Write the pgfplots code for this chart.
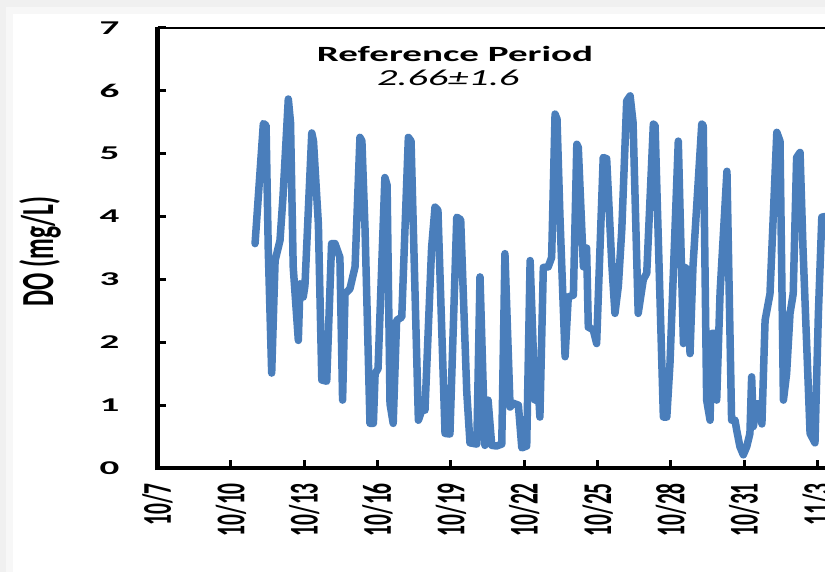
\documentclass[border=0pt]{standalone}
\usepackage{pgfplots}
\pgfplotsset{compat=1.18}
\usepackage{fontspec}
\setmainfont{Carlito}
\usepackage{graphicx}
\definecolor{doblue}{RGB}{74,126,187}
\newcommand\sy[1]{\scalebox{1}[1.9]{#1}}
\newcommand\yt[1]{\scalebox{2}[1]{#1}}
\pgfplotstableread{
x y
3.99 3.57
4.33 5.48
4.44 5.45
4.53 3.47
4.67 1.51
4.81 3.30
5.01 3.62
5.13 4.30
5.35 5.87
5.44 5.50
5.55 3.20
5.76 2.03
5.83 2.93
5.96 2.72
6.03 2.90
6.31 5.33
6.38 5.20
6.58 3.88
6.72 1.40
6.92 1.38
7.12 3.57
7.26 3.57
7.46 3.35
7.57 1.08
7.67 2.77
7.87 2.85
8.08 3.20
8.28 5.26
8.36 5.20
8.49 3.78
8.69 0.71
8.83 0.71
8.90 1.50
9.02 1.58
9.30 4.62
9.39 4.50
9.51 1.02
9.64 0.71
9.78 2.35
9.99 2.40
10.26 5.26
10.37 5.20
10.67 0.76
10.81 0.92
10.94 0.92
11.21 3.50
11.35 4.15
11.47 4.10
11.76 0.55
11.96 0.54
12.24 3.99
12.40 3.95
12.65 1.20
12.78 0.40
13.06 0.38
13.19 3.04
13.39 0.36
13.52 1.08
13.67 0.36
13.87 0.35
14.08 0.38
14.21 3.41
14.42 0.97
14.55 1.03
14.76 1.00
14.90 0.32
15.10 0.35
15.24 3.30
15.44 1.08
15.51 1.70
15.64 0.81
15.78 3.19
15.98 3.20
16.12 3.35
16.26 5.63
16.34 5.55
16.46 4.00
16.67 1.77
16.80 2.72
17.01 2.75
17.15 5.15
17.21 5.10
17.42 3.20
17.55 3.50
17.62 2.24
17.82 2.20
17.96 1.98
18.23 4.94
18.37 4.92
18.58 3.25
18.71 2.46
18.85 2.90
18.99 3.80
19.19 5.84
19.33 5.92
19.45 5.50
19.66 2.46
19.87 3.00
20.01 3.10
20.28 5.47
20.35 5.45
20.69 0.81
20.83 0.81
20.96 1.66
21.30 5.20
21.37 4.12
21.51 1.98
21.57 3.19
21.70 3.15
21.78 1.82
21.90 3.20
22.26 5.47
22.32 5.45
22.46 1.08
22.60 0.76
22.67 2.14
22.80 2.14
22.87 1.08
23.01 2.80
23.29 4.72
23.48 0.76
23.62 0.76
23.69 0.60
23.82 0.34
23.96 0.21
24.10 0.34
24.23 0.55
24.30 1.45
24.37 0.66
24.51 1.02
24.64 1.02
24.72 0.70
24.85 2.35
25.05 2.77
25.33 5.34
25.46 5.20
25.60 1.08
25.73 1.50
25.87 2.46
26.00 2.77
26.14 4.94
26.28 5.02
26.40 3.50
26.69 0.55
26.89 0.40
27.03 2.46
27.17 3.99
27.30 4.00
27.71 3.60
}\dodata
\begin{document}
\begin{tikzpicture}
\useasboundingbox (0,0) rectangle (825pt,572pt);
\clip (0,0) rectangle (825pt,572pt);
\fill[black!6] (0,0) rectangle (825pt,572pt);
\fill[black!3] (6pt,0) rectangle (825pt,565pt);
\fill[white] (13pt,0) rectangle (825pt,558pt);
\begin{axis}[
  at={(157.5pt,104pt)}, anchor=south west,
  x=24.45pt, y=62.86pt,
  xmin=0, xmax=30, ymin=0, ymax=7,
  axis line style={draw=none},
  clip=false,
  xtick={0,3,...,30},
  xticklabels={\sy{10/7},\sy{10/10},\sy{10/13},\sy{10/16},\sy{10/19},\sy{10/22},\sy{10/25},\sy{10/28},\sy{10/31},\sy{11/3},\sy{11/6}},
  ytick={0,1,...,7},
  yticklabels={\yt{0},\yt{1},\yt{2},\yt{3},\yt{4},\yt{5},\yt{6},\yt{7}},
  xtick pos=bottom, ytick pos=left,
  tick align=inside,
  major tick length=8pt,
  tick style={black, line width=3pt},
  xticklabel style={font=\fontsize{21.5}{22}\selectfont\bfseries, rotate=90, anchor=east, inner sep=0pt},
  xticklabel shift=15pt,
  yticklabel style={font=\fontsize{19.5}{20}\selectfont\bfseries, anchor=east, inner sep=0pt},
  yticklabel shift=38pt,
]
\addplot[doblue, line width=7.5pt, line join=round, line cap=round] table[x=x, y=y] {\dodata};
\draw[line width=4.5pt] (axis cs:0,0) -- (axis cs:30,0);
\draw[line width=4.5pt] (axis cs:0,-0.035) -- (axis cs:0,7.02);
\draw[line width=2.5pt] (axis cs:0,7) -- (axis cs:30,7);
\node[anchor=base, font=\fontsize{21.7}{22}\selectfont\bfseries] at (axis cs:12.17,6.46) {\scalebox{1.8}[1]{Reference Period}};
\node[anchor=base, font=\fontsize{23}{24}\selectfont\itshape] at (axis cs:11.89,6.08) {\scalebox{1.75}[1]{2.66±1.6}};
\node[rotate=90, font=\fontsize{25.5}{26}\selectfont\bfseries] at (axis cs:-4.806,3.444) {\scalebox{1}[1.8]{DO (mg/L)}};
\end{axis}
\end{tikzpicture}
\end{document}
